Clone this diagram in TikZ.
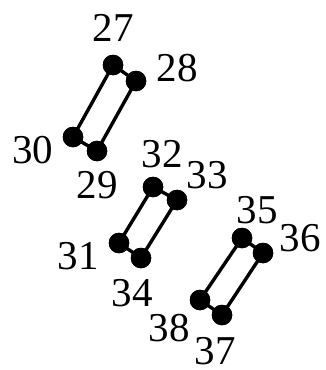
\documentclass[tikz,border=0pt]{standalone}
\usepackage{fontspec}
\setmainfont{Liberation Serif}
\begin{document}
\begin{tikzpicture}[x=1pt,y=-1pt,
  dot/.style={circle,fill=black,inner sep=0pt,minimum size=20.5pt},
  lab/.style={inner sep=0pt,font=\fontsize{41}{41}\selectfont},
  bond/.style={line width=3.4pt}]
\useasboundingbox (0,0) rectangle (325,370);
% group 1
\node[dot] (n27) at (113,65) {};
\node[dot] (n28) at (136,81) {};
\node[dot] (n29) at (97,151) {};
\node[dot] (n30) at (73,137) {};
% group 2
\node[dot] (n32) at (153,187) {};
\node[dot] (n33) at (177,200) {};
\node[dot] (n34) at (141,258) {};
\node[dot] (n31) at (119,243) {};
% group 3
\node[dot] (n35) at (242,238) {};
\node[dot] (n36) at (263,253) {};
\node[dot] (n37) at (222,315) {};
\node[dot] (n38) at (200,300) {};
\draw[bond] (n27.center) -- (n28.center) -- (n29.center) -- (n30.center) -- cycle;
\draw[bond] (n32.center) -- (n33.center) -- (n34.center) -- (n31.center) -- cycle;
\draw[bond] (n35.center) -- (n36.center) -- (n37.center) -- (n38.center) -- cycle;
\foreach \n in {27,28,29,30,31,32,33,34,35,36,37,38} {\node[dot] at (n\n) {};}
% labels
\node[lab] (l27) at (113,28) {27};
\node[lab] (l28) at (177,68) {28};
\node[lab] (l30) at (33,150) {30};
\node[lab] (l29) at (97,185) {29};
\node[lab] (l32) at (162,154) {32};
\node[lab] (l33) at (207,175) {33};
\node[lab] (l31) at (78,256) {31};
\node[lab] (l34) at (132,293) {34};
\node[lab] (l35) at (257,210) {35};
\node[lab] (l36) at (300,238) {36};
\node[lab] (l38) at (169,328) {38};
\node[lab] (l37) at (215,351) {37};
\end{tikzpicture}
\end{document}
